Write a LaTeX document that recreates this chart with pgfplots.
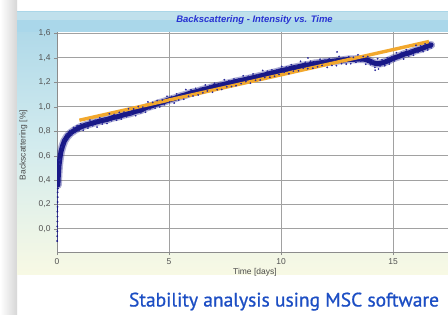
\documentclass[border=0pt]{standalone}
\usepackage{fontspec}
\setmainfont{Liberation Sans}
\newfontfamily\capfont[FakeBold=0.8]{PT Sans}
\usepackage{graphicx}
\usepackage{pgfplots}
\pgfplotsset{compat=1.18}
\definecolor{bsnavy}{RGB}{25,25,135}
\definecolor{bsdot}{RGB}{40,40,155}
\definecolor{fitorange}{RGB}{242,168,45}
\definecolor{titleblue}{RGB}{40,50,210}
\definecolor{capblue}{RGB}{28,78,196}
\definecolor{panelTop}{RGB}{170,214,232}
\definecolor{panelMid}{RGB}{210,235,238}
\definecolor{panelBot}{RGB}{248,249,228}
\definecolor{toolbar}{RGB}{192,224,236}
\definecolor{titlebar}{RGB}{170,215,234}
\begin{document}
\begin{tikzpicture}
\useasboundingbox (0bp,0bp) rectangle (448bp,315bp);
\clip (0bp,0bp) rectangle (448bp,315bp);
\fill[white] (0bp,0bp) rectangle (448bp,315bp);
\shade[left color=white, right color=black!16] (0bp,0bp) rectangle (17bp,315bp);
\shade[top color=panelTop, bottom color=panelBot, middle color=panelMid] (17bp,40bp) rectangle (448bp,303bp);
\fill[toolbar] (17bp,295bp) rectangle (448bp,303bp);
\fill[titlebar] (17bp,283bp) rectangle (448bp,295bp);
\begin{axis}[
  at={(57bp,63bp)}, anchor=south west,
  width=395bp, height=220bp, scale only axis,
  xmin=0, xmax=17.63, ymin=-0.19, ymax=1.613,
  axis x line*=bottom, axis y line*=left,
  axis line style={draw=black!45, line width=0.8bp, -},
  xtick={0,5,10,15},
  ytick={0,0.2,0.4,0.6,0.8,1.0,1.2,1.4,1.6},
  grid=major, major grid style={draw=black!37, line width=1bp},
  tick align=outside, major tick length=3bp, tick style={draw=black!45},
  ticklabel style={font=\fontsize{8.5}{10}\selectfont, text=black!68},
  yticklabel style={/pgf/number format/.cd, fixed, fixed zerofill, precision=1, use comma},
  /pgf/number format/assume math mode=true,
  axis background/.style={fill=white},
  xlabel={Time [days]},
  xlabel style={at={(axis description cs:0.501,-0.091)}, anchor=center, font=\fontsize{8.5}{10}\selectfont, text=black!70},
  ylabel={Backscattering [\%]},
  ylabel style={at={(axis description cs:-0.085,0.486)}, anchor=center, font=\fontsize{8.5}{10}\selectfont, text=black!70},
  title={Backscattering - Intensity vs. Time},
  title style={at={(axis description cs:0.5,1.028)}, anchor=center, font=\bfseries\itshape\fontsize{9.5}{11}\selectfont, text=titleblue},
]
\pgfplotstableread{
x y
0.04 0.36
0.06 0.44
0.09 0.52
0.13 0.58
0.18 0.635
0.25 0.68
0.33 0.72
0.45 0.755
0.6 0.785
0.8 0.81
1.0 0.83
1.25 0.848
1.5 0.862
1.75 0.875
2.0 0.887
2.25 0.897
2.5 0.912
2.75 0.921
3.0 0.936
3.25 0.946
3.5 0.962
3.75 0.973
4.0 0.995
4.25 1.009
4.5 1.027
4.75 1.04
5.0 1.057
5.25 1.069
5.5 1.086
5.75 1.099
6.0 1.115
6.25 1.125
6.5 1.14
6.75 1.15
7.0 1.165
7.25 1.174
7.5 1.186
7.75 1.196
8.0 1.208
8.25 1.217
8.5 1.228
8.75 1.238
9.0 1.25
9.25 1.26
9.5 1.273
9.75 1.283
10.0 1.296
10.25 1.305
10.5 1.318
10.75 1.327
11.0 1.338
11.25 1.344
11.5 1.355
11.75 1.36
12.0 1.368
12.25 1.372
12.5 1.378
12.75 1.382
13.0 1.388
13.25 1.389
13.5 1.392
13.75 1.389
13.95 1.376
14.1 1.362
14.25 1.353
14.4 1.355
14.6 1.364
14.8 1.379
15.0 1.397
15.25 1.413
15.5 1.432
15.75 1.444
16.0 1.462
16.25 1.475
16.5 1.494
16.7 1.507
}\bandtable
% initial steep rise along the axis
\addplot[bsnavy, line width=0.6bp, mark=*, mark size=0.6bp] coordinates {
(0.01,-0.10) (0.01,-0.06) (0.015,-0.02) (0.015,0.02) (0.02,0.06) (0.02,0.10)
(0.02,0.14) (0.025,0.18) (0.025,0.22) (0.03,0.26) (0.03,0.30) (0.035,0.33) (0.04,0.36)};
% dense measured band (halo + core)
\addplot[bsnavy, opacity=0.35, line width=8bp, line join=round, line cap=round] table {\bandtable};
\addplot[bsnavy, line width=5bp, line join=round, line cap=round] table {\bandtable};
% linear trend
\addplot[fitorange, line width=3.4bp] coordinates {(1.0,0.89) (16.6,1.535)};
% scattered points around the band
\addplot[only marks, mark=*, mark size=0.65bp, bsdot, mark options={draw=none}] coordinates {
(0.1,0.56) (0.12,0.53) (0.15,0.57) (0.2,0.67) (0.28,0.73) (0.35,0.69) (0.42,0.775) (0.5,0.74)
(0.58,0.805) (0.66,0.77) (0.74,0.83) (0.82,0.79) (0.9,0.845) (0.98,0.805)
(1.06,0.861) (1.17,0.808) (1.29,0.865) (1.38,0.826) (1.47,0.891) (1.59,0.845) (1.70,0.890)
(1.79,0.834) (1.91,0.910) (2.02,0.859) (2.11,0.905) (2.23,0.863) (2.34,0.943) (2.43,0.886)
(2.55,0.938) (2.66,0.890) (2.78,0.954) (2.87,0.900) (2.99,0.956) (3.1,0.919) (3.19,0.984)
(3.31,0.937) (3.42,0.982) (3.51,0.927) (3.63,1.002) (3.74,0.951) (3.83,0.997) (3.95,0.955)
(4.06,1.040) (4.15,0.983) (4.27,1.036) (4.38,0.989) (4.47,1.051) (4.59,0.999) (4.70,1.056)
(4.79,1.018) (4.91,1.086) (5.02,1.039) (5.11,1.084) (5.23,1.031) (5.34,1.106) (5.43,1.055)
(5.55,1.103) (5.66,1.062) (5.75,1.141) (5.87,1.086) (5.98,1.139) (6.07,1.089) (6.19,1.151)
(6.30,1.097) (6.39,1.151) (6.51,1.114) (6.62,1.179) (6.71,1.130) (6.83,1.174) (6.94,1.119)
(7.03,1.192) (7.15,1.140) (7.26,1.186) (7.35,1.142) (7.47,1.222) (7.58,1.164) (7.67,1.214)
(7.79,1.166) (7.90,1.228) (7.99,1.173) (8.11,1.228) (8.22,1.190) (8.31,1.254) (8.43,1.206)
(8.54,1.250) (8.63,1.194) (8.75,1.269) (8.86,1.217) (8.95,1.262) (9.07,1.219) (9.18,1.298)
(9.27,1.240) (9.39,1.291) (9.50,1.242) (9.59,1.303) (9.71,1.250) (9.82,1.304) (9.91,1.265)
(10.03,1.331) (10.14,1.283) (10.23,1.326) (10.35,1.271) (10.46,1.345) (10.55,1.292)
(10.67,1.338) (10.78,1.295) (10.87,1.373) (10.99,1.317)
(11.08,1.365) (11.19,1.313) (11.31,1.373) (11.42,1.316) (11.51,1.368) (11.63,1.328)
(11.74,1.390) (11.83,1.339) (11.95,1.381) (12.06,1.323) (12.15,1.394) (12.27,1.339)
(12.38,1.383) (12.47,1.337) (12.59,1.413) (12.70,1.354) (12.79,1.402) (12.91,1.350)
(13.02,1.410) (13.11,1.353) (13.23,1.405) (13.34,1.365) (13.43,1.426) (11.2,1.40) (12.5,1.45)
(13.55,1.374) (13.67,1.412) (13.78,1.349) (13.87,1.412) (13.99,1.346) (14.10,1.377)
(14.19,1.323) (14.31,1.394) (14.42,1.335) (14.51,1.385) (14.63,1.337) (14.74,1.402)
(14.83,1.351) (14.95,1.411) (15.06,1.377) (15.15,1.443) (15.27,1.398) (15.38,1.445)
(15.47,1.392) (15.59,1.467) (15.70,1.416) (15.79,1.462) (15.91,1.423) (16.02,1.504)
(16.11,1.447) (16.23,1.499) (16.34,1.452) (16.43,1.515) (16.55,1.466) (16.64,1.522)
(16.70,1.483) (14.2,1.30) (14.35,1.31)};
\end{axis}
\node[anchor=base, text=capblue, inner sep=0pt] at (284bp,8.5bp)
  {\resizebox{310bp}{!}{\capfont Stability analysis using MSC software}};
\end{tikzpicture}
\end{document}
